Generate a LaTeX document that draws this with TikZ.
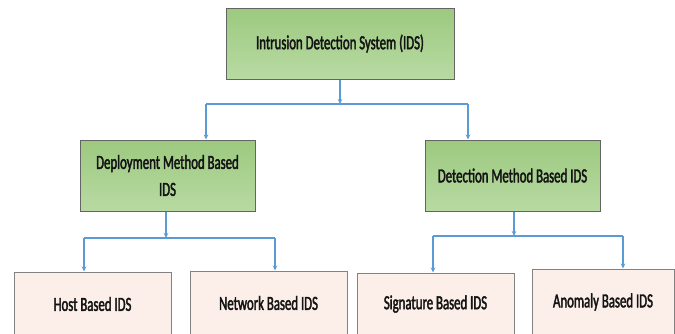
\documentclass[tikz,border=0pt]{standalone}
\usepackage{fontspec}
\setmainfont{Carlito}[FakeStretch=0.64, FakeBold=2]
\usetikzlibrary{arrows.meta}
\definecolor{gtop}{RGB}{156,201,127}
\definecolor{gbot}{RGB}{184,218,163}
\definecolor{gborder}{RGB}{100,100,100}
\definecolor{pinkfill}{RGB}{252,239,233}
\definecolor{pborder}{RGB}{130,130,130}
\definecolor{linkblue}{RGB}{91,155,213}
\definecolor{txt}{RGB}{20,20,20}
\tikzset{
  x=1pt, y=-1pt,
  every node/.style={font=\fontsize{20}{27}\selectfont, text=txt},
  greenbox/.style={draw=gborder, line width=1pt, top color=gtop, bottom color=gbot,
    minimum height=71pt, align=center, inner sep=0pt},
  pinkbox/.style={draw=pborder, line width=1pt, fill=pinkfill, align=center, inner sep=0pt},
  link/.style={draw=linkblue, line width=1.4pt},
  arrowlink/.style={link, -{Stealth[length=5pt,width=4.5pt]}},
}
\begin{document}
\begin{tikzpicture}
\useasboundingbox (0,0) rectangle (675,333);
% level 0
\node[greenbox, minimum width=228pt] (ids) at (340,43.5) {Intrusion Detection System (IDS)};
% level 1
\node[greenbox, minimum width=175pt] (dep) at (167.5,175.5) {Deployment Method Based\\IDS};
\node[greenbox, minimum width=175pt] (det) at (512.5,175.5) {Detection Method Based IDS};
% level 2
\node[pinkbox, minimum width=157pt, minimum height=64pt] (host) at (92.5,304) {Host Based IDS};
\node[pinkbox, minimum width=157pt, minimum height=64pt] (net) at (268.5,303) {Network Based IDS};
\node[pinkbox, minimum width=157pt, minimum height=62pt] (sig) at (435.5,304) {Signature Based IDS};
\node[pinkbox, minimum width=142pt, minimum height=66pt] (anom) at (603,302) {Anomaly Based IDS};
% junctions
\coordinate (j0) at (340,104);
\coordinate (j0l) at (206,104);
\coordinate (j0r) at (468,104);
\coordinate (j1) at (166,238);
\coordinate (j1l) at (84,238);
\coordinate (j1r) at (275,238);
\coordinate (j2) at (514,236);
\coordinate (j2l) at (433,236);
\coordinate (j2r) at (623,236);
% connectors
\draw[arrowlink] (ids.south) -- (j0);
\draw[link] (j0l) -- (j0r);
\draw[arrowlink] (j0l) -- (j0l |- dep.north);
\draw[arrowlink] (j0r) -- (j0r |- det.north);
\draw[arrowlink] (dep.south -| j1) -- (j1);
\draw[link] (j1l) -- (j1r);
\draw[arrowlink] (j1l) -- (j1l |- host.north);
\draw[arrowlink] (j1r) -- (j1r |- net.north);
\draw[arrowlink] (det.south -| j2) -- (j2);
\draw[link] (j2l) -- (j2r);
\draw[arrowlink] (j2l) -- (j2l |- sig.north);
\draw[arrowlink] (j2r) -- (j2r |- anom.north);
\end{tikzpicture}
\end{document}
